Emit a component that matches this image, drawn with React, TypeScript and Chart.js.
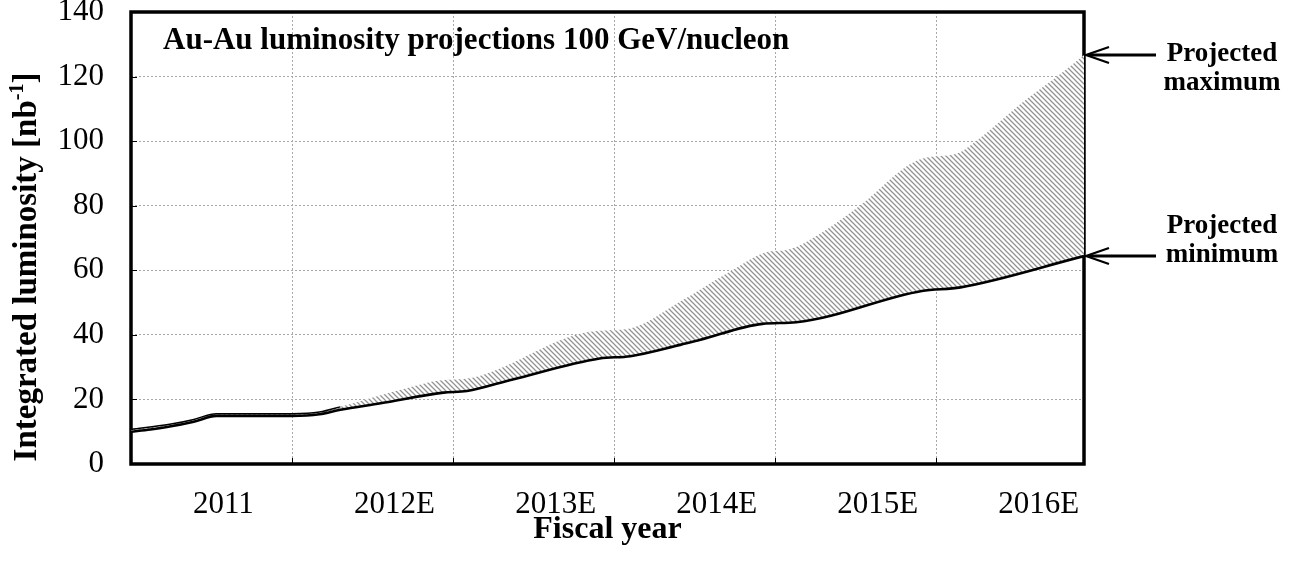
import React, { useEffect, useRef } from 'react';
import { Chart, registerables } from 'chart.js';

Chart.register(...registerables);

// ---- data (x = years since start of FY2011) ----
const yearLabels = ['2011', '2012E', '2013E', '2014E', '2015E', '2016E'];
const yTicks = [0, 20, 40, 60, 80, 100, 120, 140];

const minYears = [0, 0.12, 0.24, 0.39, 0.53, 0.7, 1.0, 1.17, 1.3, 1.55, 1.94, 2.085, 2.37, 2.91, 3.1, 3.41, 3.53, 3.92, 4.13, 4.91, 5.15, 5.917];
const minLumi = [10.0, 10.7, 11.6, 13.1, 14.9, 14.9, 14.9, 15.4, 16.8, 18.8, 22.1, 22.6, 26.2, 32.7, 33.4, 36.9, 38.4, 43.4, 43.9, 53.6, 54.7, 64.4];

const maxYears = [0, 0.24, 0.39, 0.53, 1.0, 1.17, 1.3, 1.67, 1.94, 2.08, 2.85, 3.1, 3.41, 3.72, 3.94, 4.09, 4.3, 4.53, 4.9, 5.13, 5.25, 5.54, 5.75, 5.917];
const maxLumi = [10.7, 12.3, 13.8, 15.6, 15.6, 16.1, 17.7, 22.9, 26.0, 26.4, 41.0, 42.0, 50.3, 59.6, 65.5, 66.5, 72.0, 80.2, 94.4, 96.2, 100.1, 112.2, 120.0, 126.7];

const chartTitle = 'Au-Au luminosity projections 100 GeV/nucleon';
const yTitleMain = 'Integrated luminosity [nb';
const yTitleSup = '-1';
const yTitleEnd = ']';
const xTitle = 'Fiscal year';
const annotMax = ['Projected', 'maximum'];
const annotMin = ['Projected', 'minimum'];

const SERIF = "'Liberation Serif', 'Times New Roman', Times, serif";
const LABEL_OFFSET = 0.385;
const GRID = '#a8a8a8';

function makeHatch(): CanvasPattern | string {
  const c = document.createElement('canvas');
  c.width = 5;
  c.height = 5;
  const g = c.getContext('2d');
  if (!g) return '#ccc';
  g.fillStyle = '#ffffff';
  g.fillRect(0, 0, 5, 5);
  g.strokeStyle = '#929292';
  g.lineWidth = 1.25;
  g.beginPath();
  for (const k of [-5, 0, 5]) {
    g.moveTo(k - 1, -1);
    g.lineTo(k + 6, 6);
  }
  g.stroke();
  return g.createPattern(c, 'repeat') || '#ccc';
}

const framePlugin = {
  id: 'frame',
  beforeDatasetsDraw(chart: any) {
    const { ctx, chartArea: a, scales } = chart;
    const x = scales.x;
    const y = scales.y;
    ctx.save();
    ctx.strokeStyle = '#000';
    ctx.lineWidth = 1;
    ctx.beginPath();
    for (let i = 1; i < yearLabels.length; i++) {
      const px = Math.round(x.getPixelForValue(i)) + 0.5;
      ctx.moveTo(px, a.bottom);
      ctx.lineTo(px, a.bottom - 6);
    }
    for (const v of yTicks.slice(1, -1)) {
      const py = Math.round(y.getPixelForValue(v)) + 0.5;
      ctx.moveTo(a.left, py);
      ctx.lineTo(a.left + 6, py);
    }
    ctx.stroke();
    ctx.lineWidth = 3.5;
    ctx.strokeRect(a.left, a.top, a.right - a.left, a.bottom - a.top);
    ctx.restore();
  },
  afterDraw(chart: any) {
    const { ctx, chartArea: a, scales } = chart;
    const y = scales.y;
    ctx.save();
    ctx.fillStyle = '#000';
    ctx.strokeStyle = '#000';

    // chart title inside plot
    ctx.font = `bold 31px ${SERIF}`;
    ctx.textAlign = 'left';
    ctx.textBaseline = 'alphabetic';
    ctx.fillText(chartTitle, a.left + 32, a.top + 37);

    // y-axis title with superscript
    ctx.save();
    ctx.translate(25, (a.top + a.bottom) / 2 + 29);
    ctx.rotate(-Math.PI / 2);
    const mainFont = `bold 33px ${SERIF}`;
    const supFont = `bold 20px ${SERIF}`;
    ctx.font = mainFont;
    const w1 = ctx.measureText(yTitleMain).width;
    const w3 = ctx.measureText(yTitleEnd).width;
    ctx.font = supFont;
    const w2 = ctx.measureText(yTitleSup).width;
    let sx = -(w1 + w2 + w3) / 2;
    ctx.textBaseline = 'alphabetic';
    ctx.font = mainFont;
    ctx.fillText(yTitleMain, sx, 11);
    sx += w1;
    ctx.font = supFont;
    ctx.fillText(yTitleSup, sx, -2);
    sx += w2;
    ctx.font = mainFont;
    ctx.fillText(yTitleEnd, sx, 11);
    ctx.restore();

    // arrows + annotations
    const drawArrow = (tipX: number, tipY: number) => {
      ctx.lineWidth = 3;
      ctx.beginPath();
      ctx.moveTo(tipX + 4, tipY);
      ctx.lineTo(tipX + 71, tipY);
      ctx.stroke();
      ctx.lineWidth = 2.2;
      ctx.lineJoin = 'miter';
      ctx.beginPath();
      ctx.moveTo(tipX + 24, tipY - 8);
      ctx.lineTo(tipX + 1, tipY);
      ctx.lineTo(tipX + 24, tipY + 8);
      ctx.stroke();
    };
    const tipX = a.right + 1;
    const maxTipY = y.getPixelForValue(maxLumi[maxLumi.length - 1]);
    const minTipY = y.getPixelForValue(minLumi[minLumi.length - 1]);
    drawArrow(tipX, maxTipY);
    drawArrow(tipX, minTipY);
    ctx.font = `bold 27px ${SERIF}`;
    ctx.textAlign = 'center';
    ctx.textBaseline = 'alphabetic';
    const tx = a.right + 138;
    ctx.fillText(annotMax[0], tx, maxTipY + 6);
    ctx.fillText(annotMax[1], tx, maxTipY + 35);
    ctx.fillText(annotMin[0], tx, minTipY - 23);
    ctx.fillText(annotMin[1], tx, minTipY + 6);
    ctx.restore();
  },
};

export default function App() {
  const ref = useRef<HTMLCanvasElement | null>(null);

  useEffect(() => {
    const canvas = ref.current;
    if (!canvas) return;
    const hatch = makeHatch();
    const minData = minYears.map((x, i) => ({ x, y: minLumi[i] }));
    const maxData = maxYears.map((x, i) => ({ x, y: maxLumi[i] }));
    const xMax = Math.max(minYears[minYears.length - 1], maxYears[maxYears.length - 1]);
    const xTickValues: number[] = [];
    yearLabels.forEach((_, i) => {
      xTickValues.push(i, i + LABEL_OFFSET);
    });

    const chart = new Chart(canvas, {
      type: 'line',
      data: {
        datasets: [
          {
            label: 'Projected minimum',
            data: minData,
            borderColor: '#000',
            borderWidth: 2.6,
            pointRadius: 0,
            fill: false,
            cubicInterpolationMode: 'monotone',
          },
          {
            label: 'Projected maximum',
            data: maxData,
            borderColor: '#000',
            borderWidth: 1.5,
            pointRadius: 0,
            backgroundColor: hatch as any,
            fill: '-1',
            cubicInterpolationMode: 'monotone',
            segment: {
              borderColor: (c: any) => (c.p0.parsed.x < 1.3 ? '#000' : 'rgba(0,0,0,0)'),
            },
          },
        ],
      },
      options: {
        animation: false,
        responsive: true,
        maintainAspectRatio: false,
        layout: { padding: { top: 12, right: 225, bottom: 14, left: 0 } },
        plugins: {
          legend: { display: false },
          tooltip: { enabled: false },
          title: { display: false },
        },
        scales: {
          x: {
            type: 'linear',
            min: 0,
            max: xMax,
            afterBuildTicks: (s: any) => {
              s.ticks = xTickValues.map((v) => ({ value: v }));
            },
            afterFit: (s: any) => {
              s.height = 85;
              s.paddingLeft = 0;
              s.paddingRight = 0;
            },
            grid: {
              color: (c: any) => (c.tick && Number.isInteger(c.tick.value) ? GRID : 'rgba(0,0,0,0)'),
              lineWidth: 1,
              drawTicks: false,
            },
            border: { display: false, dash: [2, 2] },
            ticks: {
              autoSkip: false,
              maxRotation: 0,
              minRotation: 0,
              align: 'start',
              padding: 22,
              color: '#000',
              font: { family: SERIF, size: 31 },
              callback: (v: any) => (Number.isInteger(v) ? '' : yearLabels[Math.floor(v)]),
            },
            title: {
              display: true,
              text: xTitle,
              color: '#000',
              font: { family: SERIF, size: 32, weight: 'bold' },
              padding: 0,
            },
          },
          y: {
            type: 'linear',
            min: 0,
            max: 140,
            afterBuildTicks: (s: any) => {
              s.ticks = yTicks.map((v) => ({ value: v }));
            },
            afterFit: (s: any) => {
              s.width = 131;
              s.paddingTop = 0;
              s.paddingBottom = 0;
            },
            grid: { color: GRID, lineWidth: 1, drawTicks: false },
            border: { display: false, dash: [2, 2] },
            ticks: {
              padding: 27,
              color: '#000',
              font: { family: SERIF, size: 31 },
            },
          },
        },
      } as any,
      plugins: [framePlugin],
    });
    return () => chart.destroy();
  }, []);

  return (
    <div style={{ position: 'fixed', left: 0, top: 0, width: 1309, height: 563, background: '#fff' }}>
      <canvas ref={ref} />
    </div>
  );
}
